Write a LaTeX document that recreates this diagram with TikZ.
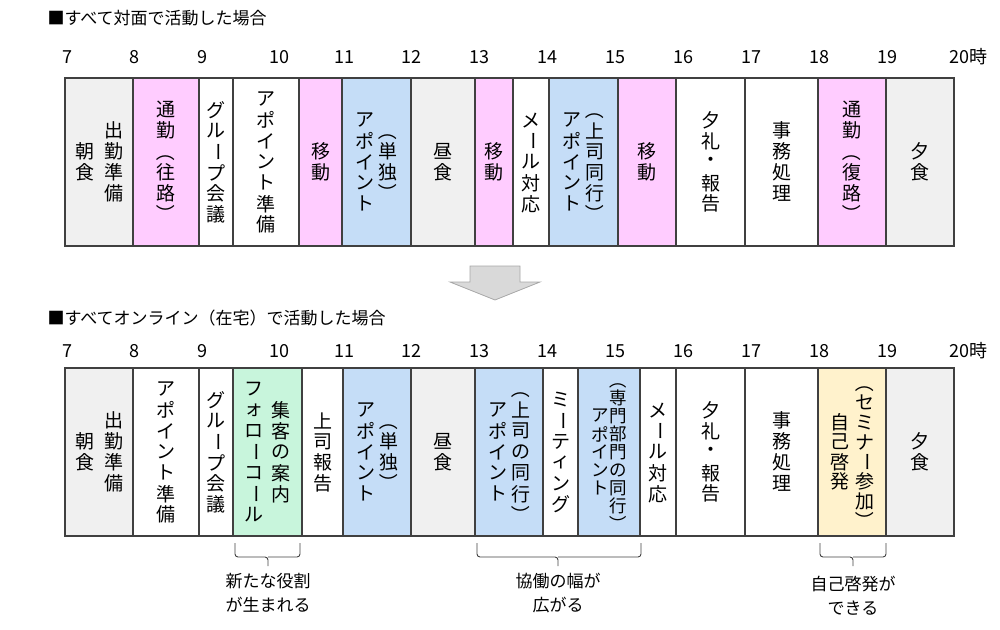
\documentclass[tikz,border=0pt]{standalone}
\usepackage{fontspec}
\usepackage{graphicx}
\setmainfont{Noto Sans CJK JP}
\definecolor{gr}{HTML}{F0F0F0}
\definecolor{pk}{HTML}{FFCCFF}
\definecolor{bl}{HTML}{C5DDF7}
\definecolor{gn}{HTML}{C8F5DC}
\definecolor{yl}{HTML}{FFF2CC}
\definecolor{ln}{HTML}{404040}
\makeatletter
\def\vrt#1{\ifx#1ー\rotatebox[origin=c]{-90}{#1}\else\ifx#1（\rotatebox[origin=c]{-90}{#1}\else\ifx#1）\rotatebox[origin=c]{-90}{#1}\else#1\fi\fi\fi}
\def\vpitch{1.1em}
\def\vch#1{\vbox to \vpitch{\vss\hbox to 1em{\hss\vrt{#1}\hss}\vss}}
\def\vcA#1{\ifx\relax#1\else\vch{#1}\expandafter\vcA\fi}
\def\vc#1{$\vcenter{\offinterlineskip\vcA#1\relax}$}
\makeatother
\newcommand\gap{\hspace{4pt}}
\tikzset{slotbox/.style={draw=ln,line width=1.1pt,inner sep=0pt,font=\fontsize{19}{21}\selectfont},
 lbl/.style={font=\fontsize{18}{20}\selectfont},
 ttl/.style={font=\fontsize{17}{20}\selectfont,anchor=west},
 note/.style={font=\fontsize{17}{24}\selectfont,align=center},
 brc/.style={draw=ln,line width=0.9pt,rounded corners=3pt}}
\newcommand\slot[6]{\pgfmathsetmacro\sw{#3-#2}\pgfmathsetmacro\sc{(#2+#3)/2}%
 \node[slotbox,fill=#4,minimum width=\sw pt,minimum height=168pt] (#1) at (\sc,#5) {#6};}
\begin{document}
\begin{tikzpicture}[x=1pt,y=-1pt]
\useasboundingbox (0,0) rectangle (1000,629);
\node[ttl] (t1) at (44,18) {■すべて対面で活動した場合};
\node[ttl] (t2) at (44,318) {■すべてオンライン（在宅）で活動した場合};
\foreach \x/\t [count=\i] in {67/7,134/8,202/9,279/10,344/11,411/12,479/13,547/14,615/15,683/16,751/17,819/18,887/19,968/20時}{
 \node[lbl] (ha\i) at (\x,57) {\t};
 \node[lbl] (hb\i) at (\x,351) {\t};}
% top row
\def\yt{162}
\slot{a1}{65}{133}{gr}{\yt}{\vc{朝食}\hspace{10pt}\vc{出勤準備}}
\slot{a2}{133}{199}{pk}{\yt}{\vc{通勤（往路）}}
\slot{a3}{199}{233}{white}{\yt}{\vc{グループ会議}}
\slot{a4}{233}{299}{white}{\yt}{\vc{アポイント準備}}
\slot{a5}{299}{342}{pk}{\yt}{\vc{移動}}
\slot{a6}{342}{411}{bl}{\yt}{\vc{アポイント}\gap\vc{（単独）}}
\slot{a7}{411}{475}{gr}{\yt}{\vc{昼食}}
\slot{a8}{475}{513}{pk}{\yt}{\vc{移動}}
\slot{a9}{513}{549}{white}{\yt}{\vc{メール対応}}
\slot{a10}{549}{618}{bl}{\yt}{\vc{アポイント}\gap\vc{（上司同行）}}
\slot{a11}{618}{676}{pk}{\yt}{\vc{移動}}
\slot{a12}{676}{745}{white}{\yt}{\vc{夕礼・報告}}
\slot{a13}{745}{818}{white}{\yt}{\vc{事務処理}}
\slot{a14}{818}{886}{pk}{\yt}{\vc{通勤（復路）}}
\slot{a15}{886}{954}{gr}{\yt}{\vc{夕食}}
% arrow
\draw[fill=gray!30,draw=gray!70,line width=0.8pt] (470,266) -- (520,266) -- (520,282) -- (540,282) -- (495,300) -- (450,282) -- (470,282) -- cycle;
% bottom row
\def\yb{452}
\slot{b1}{65}{133}{gr}{\yb}{\vc{朝食}\hspace{10pt}\vc{出勤準備}}
\slot{b2}{133}{199}{white}{\yb}{\vc{アポイント準備}}
\slot{b3}{199}{233}{white}{\yb}{\vc{グループ会議}}
\slot{b4}{233}{302}{gn}{\yb}{\vc{フォローコール}\hspace{8pt}\vc{集客の案内}}
\slot{b5}{302}{343}{white}{\yb}{\vc{上司報告}}
\slot{b6}{343}{411}{bl}{\yb}{\vc{アポイント}\gap\vc{（単独）}}
\slot{b7}{411}{475}{gr}{\yb}{\vc{昼食}}
\slot{b8}{475}{543}{bl}{\yb}{\vc{アポイント}\gap\vc{（上司の同行）}}
\slot{b9}{543}{578}{white}{\yb}{\vc{ミーティング}}
\slot{b10}{578}{640}{bl}{\yb}{\fontsize{17.5}{20}\selectfont\def\vpitch{1.03em}\vc{アポイント}\hspace{1pt}\vc{（専門部門の同行）}}
\slot{b11}{640}{676}{white}{\yb}{\vc{メール対応}}
\slot{b12}{676}{745}{white}{\yb}{\vc{夕礼・報告}}
\slot{b13}{745}{818}{white}{\yb}{\vc{事務処理}}
\slot{b14}{818}{886}{yl}{\yb}{\def\vpitch{1.04em}\vc{自己啓発}\hspace{6pt}\vc{（セミナー参加）}}
\slot{b15}{886}{954}{gr}{\yb}{\vc{夕食}}
% braces
\draw[brc] (235,543) |- (268,557) -- (268,566) (268,557) -| (300,543);
\draw[brc] (477,543) |- (558,557) -- (558,566) (558,557) -| (641,543);
\draw[brc] (820,543) |- (853,557) -- (853,566) (853,557) -| (886,543);
\node[note] (n1) at (268,593) {新たな役割\\が生まれる};
\node[note] (n2) at (558,593) {協働の幅が\\広がる};
\node[note] (n3) at (853,596) {自己啓発が\\できる};
\end{tikzpicture}
\end{document}
